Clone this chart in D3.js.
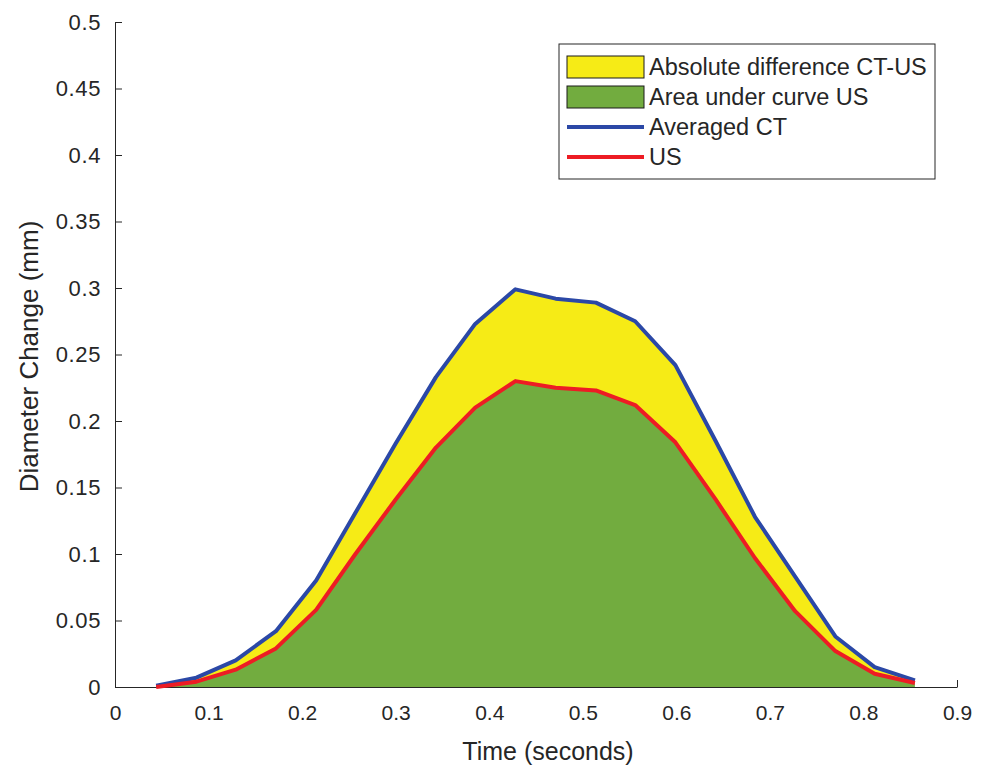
<!DOCTYPE html>
<html>
<head>
<meta charset="utf-8">
<script src="https://cdn.jsdelivr.net/npm/d3@7"></script>
<style>
  body { margin: 0; background: #fff; }
  text { font-family: "Liberation Sans", Arial, sans-serif; fill: #262626; }
  .axis path, .axis line { stroke: #262626; }
</style>
</head>
<body>
<div id="vis"></div>
<script>
'use strict'

// sample times (seconds)
const times = [0.044, 0.087, 0.129, 0.172, 0.215, 0.257, 0.300, 0.343, 0.385, 0.428,
               0.471, 0.514, 0.556, 0.599, 0.642, 0.684, 0.727, 0.770, 0.812, 0.855]
// averaged CT diameter change (mm)
const averagedCT = [0.001, 0.007, 0.020, 0.042, 0.080, 0.131, 0.183, 0.233, 0.273, 0.299,
                    0.292, 0.289, 0.275, 0.242, 0.185, 0.128, 0.083, 0.038, 0.015, 0.005]
// ultrasound diameter change (mm)
const usValues = [0.000, 0.004, 0.013, 0.029, 0.058, 0.100, 0.141, 0.180, 0.210, 0.230,
                  0.225, 0.223, 0.212, 0.184, 0.141, 0.097, 0.057, 0.027, 0.010, 0.003]

const xTicks = [0, 0.1, 0.2, 0.3, 0.4, 0.5, 0.6, 0.7, 0.8, 0.9]
const yTicks = [0, 0.05, 0.1, 0.15, 0.2, 0.25, 0.3, 0.35, 0.4, 0.45, 0.5]
const legendLabels = ['Absolute difference CT-US', 'Area under curve US', 'Averaged CT', 'US']

const colors = { diff: '#f6eb16', area: '#72ac3f', ct: '#2b48a6', us: '#ed1c24' }

const totalWidth = 988
const totalHeight = 767
const margin = { top: 22, right: 31, bottom: 80, left: 115 }

const data = times.map((t, i) => ({ t: t, ct: averagedCT[i], us: usValues[i] }))

const x = d3.scaleLinear()
  .domain([0, 0.9])
  .range([margin.left, totalWidth - margin.right])

const y = d3.scaleLinear()
  .domain([0, 0.5])
  .range([totalHeight - margin.bottom, margin.top])

const svg = d3.select('div#vis')
  .append('svg')
    .attr('width', totalWidth)
    .attr('height', totalHeight)

//
// AXES
//

const fmt = d => d === 0 ? '0' : String(+d.toFixed(2))

const xAxis = d3.axisBottom(x)
  .tickValues(xTicks)
  .tickSizeInner(-7)
  .tickSizeOuter(0)
  .tickPadding(18)
  .tickFormat(fmt)

const yAxis = d3.axisLeft(y)
  .tickValues(yTicks)
  .tickSizeInner(-7)
  .tickSizeOuter(0)
  .tickPadding(14)
  .tickFormat(fmt)

svg.append('g')
  .classed('axis', true)
  .attr('transform', 'translate(0,' + y(0) + ')')
  .call(xAxis)
  .call(g => g.selectAll('text').style('font-size', '21px'))

svg.append('g')
  .classed('axis', true)
  .attr('transform', 'translate(' + x(0) + ',0)')
  .call(yAxis)
  .call(g => g.selectAll('text').style('font-size', '22px').style('letter-spacing', '0.6px'))

svg.append('text')
  .attr('x', 548)
  .attr('y', 760)
  .attr('text-anchor', 'middle')
  .style('font-size', '25px')
  .text('Time (seconds)')

svg.append('text')
  .attr('transform', 'translate(38,' + (y(0.25) + 2) + ') rotate(-90)')
  .attr('text-anchor', 'middle')
  .style('font-size', '26px')
  .text('Diameter Change (mm)')

//
// AREAS & LINES
//

const diffArea = d3.area()
  .x(d => x(d.t))
  .y0(d => y(d.us))
  .y1(d => y(d.ct))

const usArea = d3.area()
  .x(d => x(d.t))
  .y0(y(0))
  .y1(d => y(d.us))

svg.append('path')
  .datum(data)
  .attr('d', diffArea)
  .attr('fill', colors.diff)

svg.append('path')
  .datum(data)
  .attr('d', usArea)
  .attr('fill', colors.area)

svg.append('path')
  .datum(data)
  .attr('d', d3.line().x(d => x(d.t)).y(d => y(d.ct)))
  .attr('fill', 'none')
  .attr('stroke', colors.ct)
  .attr('stroke-width', 4)
  .attr('stroke-linejoin', 'round')

svg.append('path')
  .datum(data)
  .attr('d', d3.line().x(d => x(d.t)).y(d => y(d.us)))
  .attr('fill', 'none')
  .attr('stroke', colors.us)
  .attr('stroke-width', 4)
  .attr('stroke-linejoin', 'round')

//
// LEGEND
//

const legend = svg.append('g')
  .attr('transform', 'translate(559,44)')

legend.append('rect')
  .attr('width', 376)
  .attr('height', 135)
  .attr('fill', '#fff')
  .attr('stroke', '#262626')
  .attr('stroke-width', 1)

const legendColors = [colors.diff, colors.area, colors.ct, colors.us]

legendLabels.forEach((label, i) => {
  const cy = 23 + i * 30
  if (i < 2) {
    legend.append('rect')
      .attr('x', 8)
      .attr('y', cy - 11)
      .attr('width', 77)
      .attr('height', 22)
      .attr('fill', legendColors[i])
      .attr('stroke', '#1a1a1a')
      .attr('stroke-width', 1)
  } else {
    legend.append('line')
      .attr('x1', 8)
      .attr('x2', 85)
      .attr('y1', cy)
      .attr('y2', cy)
      .attr('stroke', legendColors[i])
      .attr('stroke-width', 4)
  }
  legend.append('text')
    .attr('x', 90)
    .attr('y', cy)
    .attr('dy', '0.35em')
    .style('font-size', '23.5px')
    .text(label)
})
</script>
</body>
</html>
